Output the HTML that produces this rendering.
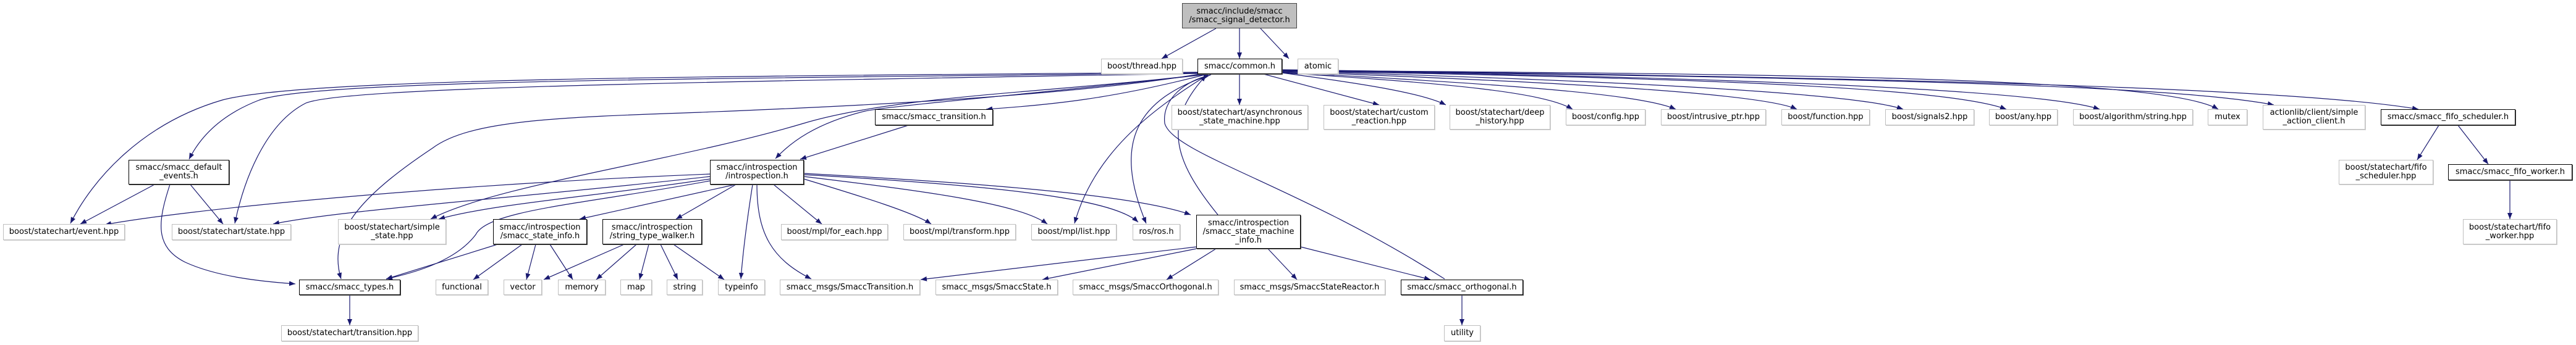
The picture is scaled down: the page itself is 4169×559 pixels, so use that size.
<!DOCTYPE html>
<html><head><meta charset="utf-8"><style>
html,body{margin:0;padding:0;background:#fff;}
body{width:4169px;height:559px;position:relative;overflow:hidden;font-family:"DejaVu Sans","Liberation Sans",sans-serif;font-size:13px;}
svg{position:absolute;left:0;top:0;}
.n{position:absolute;box-sizing:border-box;display:flex;align-items:center;justify-content:center;text-align:center;line-height:14px;background:#fff;color:#000;white-space:nowrap;}
.g{border:1px solid #bfbfbf;box-shadow:1px 1px 0 #d3d3d3;}
.b{border:1px solid #000;box-shadow:1px 1px 0 #555;}
.f{background:#bfbfbf;border:1px solid #444;}
</style></head><body>
<svg width="4169" height="559" viewBox="0 0 4169 559">
<defs><marker id="a" markerUnits="userSpaceOnUse" markerWidth="11" markerHeight="8" refX="10" refY="4" orient="auto"><path d="M0,0 L10,4 L0,8 z" fill="#191970"/></marker></defs>
<g fill="none" stroke="#191970" stroke-width="1.2" marker-end="url(#a)">
<path d="M1968,46 L1880,95"/><path d="M2006,46 L2006,95"/><path d="M2040,46 L2086,95"/>
<path d="M1940,117 C1200,124 500,125 360,162 C230,200 150,290 114,362"/>
<path d="M1940,118 C1200,128 520,128 420,162 C360,185 325,220 306,258"/>
<path d="M1940,119 C1200,132 560,140 495,167 C430,200 395,290 380,362"/>
<path d="M1942,120 C1700,160 1300,175 1134,182 C900,190 760,195 700,240 C580,320 530,380 552,452"/>
<path d="M1945,121 C1700,150 1450,155 1300,200 C1100,260 800,300 697,355"/>
<path d="M1948,121 C1700,150 1450,170 1400,180 C1320,200 1280,230 1255,257"/>
<path d="M1950,121 C1800,160 1700,170 1596,177"/>
<path d="M1955,121 C1860,180 1770,250 1739,362"/>
<path d="M1960,121 C1840,160 1800,230 1855,362"/>
<path d="M1971,348 C1900,260 1880,200 1952,122"/>
<path d="M2338,452 C2100,300 1900,250 1885,200 C1880,160 1920,130 1958,122"/>
<path d="M2006,120 L2006,170"/><path d="M2045,120 L2232,170"/>
<path d="M2075,118 C2200,135 2300,150 2340,170"/>
<path d="M2075,118 C2350,135 2500,150 2545,177"/>
<path d="M2075,117 C2400,135 2650,150 2712,177"/>
<path d="M2075,116 C2500,132 2850,150 2908,177"/>
<path d="M2075,115 C2600,130 3000,150 3080,177"/>
<path d="M2075,115 C2700,125 3150,140 3247,177"/>
<path d="M2075,114 C2800,125 3300,145 3398,177"/>
<path d="M2075,114 C2900,120 3500,125 3590,177"/>
<path d="M2075,114 C2900,125 3500,135 3680,170"/>
<path d="M2075,113 C3000,125 3700,140 3914,177"/>
<path d="M1149,282 C700,300 300,340 170,364"/>
<path d="M1149,286 C850,320 550,340 442,363"/>
<path d="M1149,290 C950,320 800,330 710,355"/>
<path d="M1149,293 C950,330 790,340 770,380 C740,420 680,440 625,452"/>
<path d="M1190,299 L938,355"/><path d="M1191,299 L1094,355"/>
<path d="M1218,299 C1210,350 1203,400 1199,452"/>
<path d="M1225,299 C1225,380 1250,420 1313,452"/>
<path d="M1252,299 L1330,363"/>
<path d="M1301,290 C1400,320 1480,345 1507,363"/>
<path d="M1301,286 C1500,310 1650,330 1695,363"/>
<path d="M1301,283 C1600,300 1800,320 1842,360"/>
<path d="M1301,281 C1650,300 1850,320 1927,348"/>
<path d="M1470,203 L1295,258"/>
<path d="M250,299 L130,363"/><path d="M308,299 L361,363"/>
<path d="M275,299 C255,360 250,400 300,425 C350,448 420,456 478,460"/>
<path d="M805,396 L625,452"/><path d="M845,396 L766,453"/><path d="M867,396 L852,453"/><path d="M890,396 L927,453"/>
<path d="M1010,396 L880,453"/><path d="M1030,396 L965,453"/><path d="M1050,396 L1035,453"/><path d="M1069,396 L1097,453"/><path d="M1090,396 L1172,453"/>
<path d="M566,478 L566,527"/>
<path d="M1936,400 L1490,453"/><path d="M1936,403 L1687,453"/><path d="M1968,403 L1888,453"/><path d="M2052,403 L2099,453"/><path d="M2105,400 L2315,453"/>
<path d="M2366,478 L2366,527"/>
<path d="M3947,203 L3912,259"/><path d="M3978,203 L4027,266"/><path d="M4062,292 L4062,355"/>
</g></svg>
<div class="n f" style="left:1913px;top:5px;width:186px;height:41px">smacc/include/smacc<br>/smacc_signal_detector.h</div>
<div class="n g" style="left:1782px;top:95px;width:132px;height:25px">boost/thread.hpp</div>
<div class="n b" style="left:1938px;top:95px;width:137px;height:25px">smacc/common.h</div>
<div class="n g" style="left:2100px;top:95px;width:66px;height:25px">atomic</div>
<div class="n b" style="left:1416px;top:177px;width:191px;height:26px">smacc/smacc_transition.h</div>
<div class="n g" style="left:1896px;top:170px;width:221px;height:40px">boost/statechart/asynchronous<br>_state_machine.hpp</div>
<div class="n g" style="left:2142px;top:170px;width:180px;height:40px">boost/statechart/custom<br>_reaction.hpp</div>
<div class="n g" style="left:2346px;top:170px;width:163px;height:40px">boost/statechart/deep<br>_history.hpp</div>
<div class="n g" style="left:2534px;top:177px;width:129px;height:26px">boost/config.hpp</div>
<div class="n g" style="left:2688px;top:177px;width:170px;height:26px">boost/intrusive_ptr.hpp</div>
<div class="n g" style="left:2883px;top:177px;width:143px;height:26px">boost/function.hpp</div>
<div class="n g" style="left:3051px;top:177px;width:144px;height:26px">boost/signals2.hpp</div>
<div class="n g" style="left:3219px;top:177px;width:111px;height:26px">boost/any.hpp</div>
<div class="n g" style="left:3355px;top:177px;width:194px;height:26px">boost/algorithm/string.hpp</div>
<div class="n g" style="left:3573px;top:177px;width:64px;height:26px">mutex</div>
<div class="n g" style="left:3662px;top:170px;width:166px;height:40px">actionlib/client/simple<br>_action_client.h</div>
<div class="n b" style="left:3853px;top:177px;width:218px;height:26px">smacc/smacc_fifo_scheduler.h</div>
<div class="n b" style="left:208px;top:259px;width:163px;height:40px">smacc/smacc_default<br>_events.h</div>
<div class="n b" style="left:1149px;top:259px;width:152px;height:40px">smacc/introspection<br>/introspection.h</div>
<div class="n g" style="left:3785px;top:259px;width:153px;height:40px">boost/statechart/fifo<br>_scheduler.hpp</div>
<div class="n b" style="left:3962px;top:266px;width:201px;height:26px">smacc/smacc_fifo_worker.h</div>
<div class="n g" style="left:5px;top:363px;width:197px;height:26px">boost/statechart/event.hpp</div>
<div class="n g" style="left:278px;top:363px;width:193px;height:26px">boost/statechart/state.hpp</div>
<div class="n g" style="left:547px;top:355px;width:175px;height:41px">boost/statechart/simple<br>_state.hpp</div>
<div class="n b" style="left:798px;top:355px;width:152px;height:41px">smacc/introspection<br>/smacc_state_info.h</div>
<div class="n b" style="left:975px;top:355px;width:161px;height:41px">smacc/introspection<br>/string_type_walker.h</div>
<div class="n g" style="left:1264px;top:363px;width:173px;height:26px">boost/mpl/for_each.hpp</div>
<div class="n g" style="left:1462px;top:363px;width:182px;height:26px">boost/mpl/transform.hpp</div>
<div class="n g" style="left:1669px;top:363px;width:138px;height:26px">boost/mpl/list.hpp</div>
<div class="n g" style="left:1833px;top:363px;width:77px;height:26px">ros/ros.h</div>
<div class="n b" style="left:1936px;top:348px;width:169px;height:55px">smacc/introspection<br>/smacc_state_machine<br>_info.h</div>
<div class="n g" style="left:3986px;top:355px;width:152px;height:41px">boost/statechart/fifo<br>_worker.hpp</div>
<div class="n b" style="left:484px;top:453px;width:164px;height:25px">smacc/smacc_types.h</div>
<div class="n g" style="left:705px;top:453px;width:85px;height:25px">functional</div>
<div class="n g" style="left:815px;top:453px;width:62px;height:25px">vector</div>
<div class="n g" style="left:903px;top:453px;width:77px;height:25px">memory</div>
<div class="n g" style="left:1004px;top:453px;width:51px;height:25px">map</div>
<div class="n g" style="left:1079px;top:453px;width:58px;height:25px">string</div>
<div class="n g" style="left:1162px;top:453px;width:76px;height:25px">typeinfo</div>
<div class="n g" style="left:1262px;top:453px;width:227px;height:25px">smacc_msgs/SmaccTransition.h</div>
<div class="n g" style="left:1514px;top:453px;width:198px;height:25px">smacc_msgs/SmaccState.h</div>
<div class="n g" style="left:1736px;top:453px;width:236px;height:25px">smacc_msgs/SmaccOrthogonal.h</div>
<div class="n g" style="left:1997px;top:453px;width:245px;height:25px">smacc_msgs/SmaccStateReactor.h</div>
<div class="n b" style="left:2267px;top:453px;width:198px;height:25px">smacc/smacc_orthogonal.h</div>
<div class="n g" style="left:455px;top:527px;width:222px;height:26px">boost/statechart/transition.hpp</div>
<div class="n g" style="left:2337px;top:527px;width:59px;height:26px">utility</div>
</body></html>
